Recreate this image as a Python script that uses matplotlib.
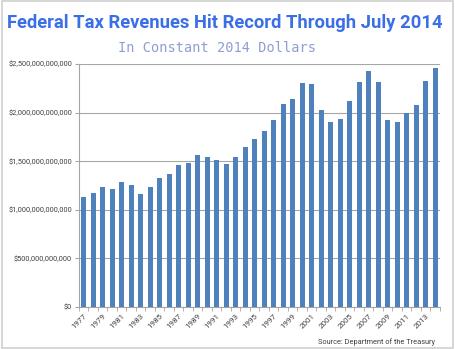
import matplotlib.pyplot as plt
from matplotlib.patches import Rectangle
from matplotlib.ticker import FuncFormatter

years = list(range(1977, 2015))
revenue_trillions = [1.134, 1.175, 1.237, 1.209, 1.285, 1.258, 1.158, 1.237, 1.330, 1.371,
                     1.457, 1.485, 1.564, 1.543, 1.512, 1.471, 1.540, 1.643, 1.729, 1.811,
                     1.925, 2.087, 2.141, 2.303, 2.296, 2.030, 1.907, 1.930, 2.124, 2.320,
                     2.423, 2.310, 1.925, 1.907, 2.000, 2.080, 2.330, 2.464]
revenue = [v * 1e12 for v in revenue_trillions]
year_labels = [str(y) if y % 2 == 1 else '' for y in years]

title = 'Federal Tax Revenues Hit Record Through July 2014'
subtitle = 'In Constant 2014 Dollars'
source = 'Source: Department of the Treasury'
narrow = ['Roboto', 'DejaVu Sans']

fig = plt.figure(figsize=(4.55, 3.49), dpi=100)
fig.patch.set_facecolor('white')
fig.patches.append(Rectangle((0.004, 0.004), 0.992, 0.992, transform=fig.transFigure,
                             fill=False, edgecolor='#d0d0d0', lw=1.2))

ax = fig.add_axes([0.1736, 0.1203, 0.7934, 0.6963])
x = list(range(len(years)))
ax.bar(x, revenue, width=0.55, color='#4f81bd', zorder=3)

ax.set_xlim(-0.5, len(years) - 0.5)
ax.set_ylim(0, 2.5e12)
ax.set_yticks([0, 0.5e12, 1e12, 1.5e12, 2e12, 2.5e12])
ax.yaxis.set_major_formatter(FuncFormatter(lambda v, p: '${:,.0f}'.format(v)))
ax.grid(axis='y', color='#a6a6a6', lw=0.8, zorder=0)
ax.tick_params(axis='y', labelsize=5.3, length=3, color='#a6a6a6', labelcolor='#404040', pad=2)
for lbl in ax.get_yticklabels():
    lbl.set_family(narrow)

# category ticks sit between bars, labels under odd years
ax.set_xticks([i - 0.5 for i in x] + [len(x) - 0.5], minor=True)
ax.set_xticks(x)
ax.set_xticklabels(year_labels, rotation=45, ha='right', rotation_mode='anchor',
                   fontsize=5.8, color='#404040', family=narrow)
ax.tick_params(axis='x', which='major', length=0, pad=4)
ax.tick_params(axis='x', which='minor', length=3, color='#a6a6a6')

for side in ['top', 'right']:
    ax.spines[side].set_visible(False)
for side in ['left', 'bottom']:
    ax.spines[side].set_color('#a6a6a6')
    ax.spines[side].set_linewidth(0.8)

fig.text(0.493, 0.935, title, ha='center', va='center', fontsize=13.2, fontweight='bold',
         color='#3b6fe6', family=narrow)
fig.text(0.477, 0.862, subtitle, ha='center', va='center', fontsize=9.8,
         family='DejaVu Sans Mono', color='#8f9fd4')
fig.text(0.957, 0.01, source, ha='right', va='bottom', fontsize=5.3, color='#404040',
         family=narrow)

fig.savefig('out.png', dpi=100)
